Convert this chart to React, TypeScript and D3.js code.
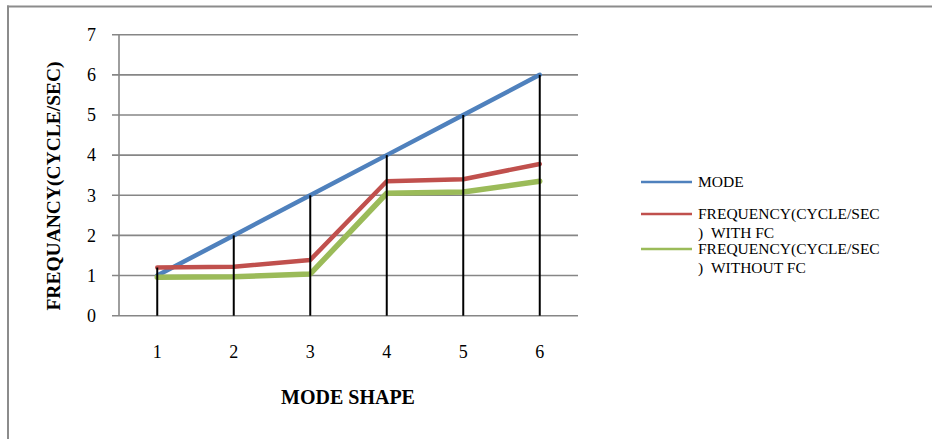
import React from "react";
import * as d3 from "d3";

const categories = ["1", "2", "3", "4", "5", "6"];
const modeValues = [1, 2, 3, 4, 5, 6];
const withFC = [1.2, 1.22, 1.39, 3.35, 3.4, 3.78];
const withoutFC = [0.96, 0.97, 1.04, 3.05, 3.08, 3.35];
const yTicks = [0, 1, 2, 3, 4, 5, 6, 7];
const seriesNames = ["MODE", "FREQUENCY(CYCLE/SEC\n)\u00a0\u00a0WITH FC", "FREQUENCY(CYCLE/SEC\n)\u00a0\u00a0WITHOUT FC"];
const seriesColors = ["#4F81BD", "#C0504D", "#9BBB59"];

const W = 932;
const H = 439;
const FONT = "'Liberation Serif', 'Times New Roman', serif";

export default function App() {
  const x = d3.scaleBand<string>().domain(categories).range([119, 578]);
  const y = d3.scaleLinear().domain([0, 7]).range([315.7, 34.7]);
  const cx = (c: string) => (x(c) as number) + x.bandwidth() / 2;

  const series = [modeValues, withFC, withoutFC];
  const widths = [4.5, 4.5, 5.5];
  const line = d3
    .line<number>()
    .x((_, i) => cx(categories[i]))
    .y((d) => y(d));

  const gridColor = "#868686";

  return (
    <svg
      width={W}
      height={H}
      style={{ position: "absolute", left: 0, top: 0, background: "#fff" }}
    >
      {/* outer border */}
      <line x1={7} x2={W} y1={6.5} y2={6.5} stroke="#8c8c8c" strokeWidth={2} />
      <line x1={8} x2={8} y1={5.5} y2={H} stroke="#8c8c8c" strokeWidth={2} />

      {/* gridlines */}
      {yTicks.map((t) => (
        <g key={t}>
          <line x1={112} x2={578} y1={y(t)} y2={y(t)} stroke={gridColor} strokeWidth={1.6} />
          <text
            x={96}
            y={y(t)}
            dy="0.35em"
            textAnchor="end"
            fontFamily={FONT}
            fontSize={18}
            fill="#000"
          >
            {t}
          </text>
        </g>
      ))}
      <line x1={119} x2={119} y1={y(7)} y2={y(0)} stroke={gridColor} strokeWidth={1.6} />

      {/* series */}
      {series.map((s, i) => (
        <path
          key={i}
          d={line(s) || ""}
          fill="none"
          stroke={seriesColors[i]}
          strokeWidth={widths[i]}
          strokeLinejoin="round"
          strokeLinecap="round"
        />
      ))}

      {/* drop lines */}
      {categories.map((c, i) => {
        const top = Math.max(modeValues[i], withFC[i], withoutFC[i]);
        return (
          <line
            key={c}
            x1={cx(c)}
            x2={cx(c)}
            y1={y(top)}
            y2={y(0)}
            stroke="#000"
            strokeWidth={2}
          />
        );
      })}

      {/* x tick labels */}
      {categories.map((c) => (
        <text
          key={c}
          x={cx(c)}
          y={352}
          dy="0.35em"
          textAnchor="middle"
          fontFamily={FONT}
          fontSize={18}
          fill="#000"
        >
          {c}
        </text>
      ))}

      {/* axis titles */}
      <text
        x={348}
        y={397}
        dy="0.35em"
        textAnchor="middle"
        fontFamily={FONT}
        fontWeight="bold"
        fontSize={20}
        fill="#000"
      >
        MODE SHAPE
      </text>
      <text
        transform={`translate(53,186) rotate(-90)`}
        dy="0.35em"
        textAnchor="middle"
        fontFamily={FONT}
        fontWeight="bold"
        fontSize={19.5}
        fill="#000"
      >
        FREQUANCY(CYCLE/SEC)
      </text>

      {/* legend */}
      {seriesNames.map((name, i) => {
        const ly = [182, 214, 249][i];
        const lines = name.split("\n");
        return (
          <g key={i}>
            <line x1={641} x2={692} y1={ly} y2={ly} stroke={seriesColors[i]} strokeWidth={2.5} />
            {lines.map((t, j) => (
              <text
                key={j}
                x={698}
                y={ly + j * 19}
                dy="0.35em"
                fontFamily={FONT}
                fontSize={15.5}
                fill="#000"
              >
                {t}
              </text>
            ))}
          </g>
        );
      })}
    </svg>
  );
}
